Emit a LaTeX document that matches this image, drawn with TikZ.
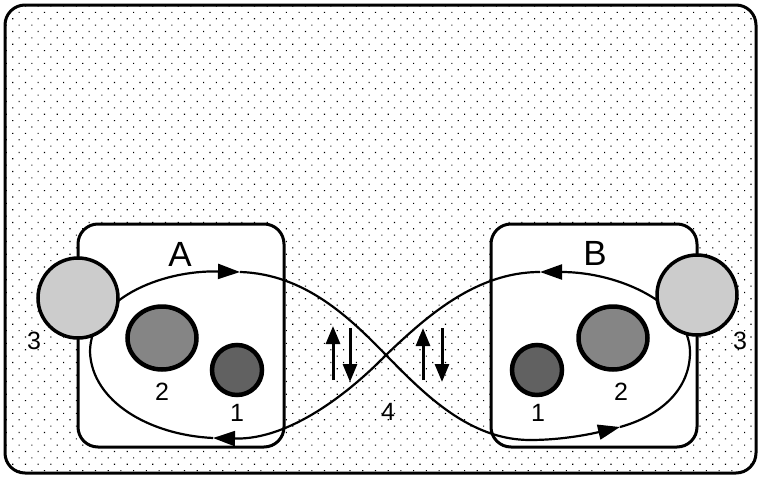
\documentclass[tikz,border=0pt]{standalone}
\usepackage{fontspec}
\setmainfont{Liberation Sans}
\usetikzlibrary{arrows.meta, patterns.meta, shapes.geometric}

\begin{document}
\begin{tikzpicture}[x=1pt, y=-1pt,
  frame/.style={draw, line width=3pt, rounded corners=20pt,
    pattern={Dots[distance=9pt, angle=45, radius=0.8pt]}},
  cell/.style={draw, line width=3pt, rounded corners=20pt, fill=white,
    minimum width=206pt, minimum height=223pt, inner sep=0pt},
  loopline/.style={line width=2.2pt},
  loophead/.style={loopline, -{Triangle[length=22pt, width=15pt]}},
  flux/.style={line width=3pt, -{Triangle[length=18pt, width=14pt]}},
  outer/.style={circle, draw, line width=3.5pt, fill=black!20,
    minimum size=80pt, inner sep=0pt},
  middle/.style={ellipse, draw, line width=4.5pt, fill=black!48,
    minimum width=69pt, minimum height=63pt, inner sep=0pt},
  inner/.style={circle, draw, line width=4.5pt, fill=black!62,
    minimum size=50pt, inner sep=0pt},
  tag/.style={font=\fontsize{35}{35}\selectfont, inner sep=0pt},
  num/.style={font=\fontsize{25}{25}\selectfont, inner sep=0pt}]

\useasboundingbox (0,0) rectangle (761,477);

% dotted background panel
\path[frame] (5,5) rectangle (756,473);

% the two compartments
\node[cell] (boxA) at (181,335.5) {};
\node[cell] (boxB) at (594,335.5) {};

% points on the figure-eight path
\coordinate (cross) at (386,355);
\coordinate (lt) at (240,272);
\coordinate (lb) at (213,438);
\coordinate (lw) at (90,352);
\coordinate (rt) at (540,272);
\coordinate (rb) at (620,427);
\coordinate (re) at (690,352);
\coordinate (rbot) at (530,440);

% figure-eight circulation
\draw[loophead] (cross) .. controls (350,392) and (290,440) .. (lb);
\draw[loopline] (lb) .. controls (150,435) and (92,402) .. (lw);
\draw[loophead] (lw) .. controls (90,300) and (160,270) .. (lt);
\draw[loopline] (lt) .. controls (305,274) and (350,318) .. (cross);
\draw[loopline] (cross) .. controls (425,395) and (470,440) .. (rbot);
\draw[loophead] (rbot) .. controls (565,440) and (595,433) .. (rb);
\draw[loopline] (rb) .. controls (660,416) and (690,390) .. (re);
\draw[loophead] (re) .. controls (690,305) and (620,272) .. (rt);
\draw[loopline] (rt) .. controls (475,272) and (425,318) .. (cross);

% pools in compartment A
\node[outer] (a3) at (78,298) {};
\node[middle] (a2) at (162,338) {};
\node[inner] (a1) at (237,370) {};

% pools in compartment B
\node[outer] (b3) at (697,295) {};
\node[middle] (b2) at (613,338) {};
\node[inner] (b1) at (537,370) {};

% labels
\node[tag] (labA) at (180,254) {A};
\node[tag] (labB) at (595,253) {B};
\node[num] (na3) at (34,341) {3};
\node[num] (na2) at (162,392) {2};
\node[num] (na1) at (237,413) {1};
\node[num] (nb3) at (740,341) {3};
\node[num] (nb2) at (621,392) {2};
\node[num] (nb1) at (538,413) {1};
\node[num] (n4) at (388,412) {4};

% exchange arrows between the compartments
\coordinate (u1s) at (333,380); \coordinate (u1e) at (333,326);
\coordinate (d1s) at (350,328); \coordinate (d1e) at (350,382);
\coordinate (u2s) at (423,380); \coordinate (u2e) at (423,328);
\coordinate (d2s) at (442,328); \coordinate (d2e) at (442,382);
\draw[flux] (u1s) -- (u1e);
\draw[flux] (d1s) -- (d1e);
\draw[flux] (u2s) -- (u2e);
\draw[flux] (d2s) -- (d2e);
\end{tikzpicture}
\end{document}
